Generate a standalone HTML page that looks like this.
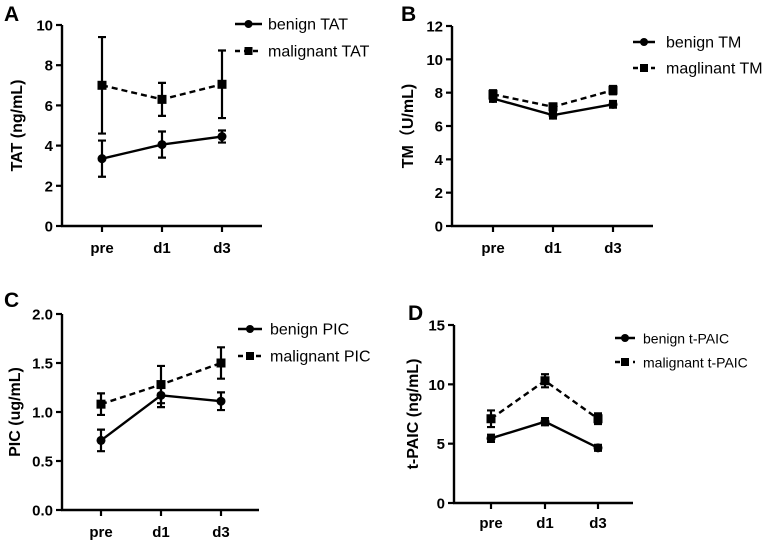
<!DOCTYPE html>
<html><head><meta charset="utf-8"><style>
html,body{margin:0;padding:0;background:#fff;}
svg{display:block;font-family:"Liberation Sans","Noto Sans CJK SC",sans-serif;}
</style></head><body>
<svg id="fig" width="766" height="540" viewBox="0 0 766 540" xmlns="http://www.w3.org/2000/svg"></svg>
<script>
const categories = ["pre","d1","d3"];
const tatBenign = [3.35, 4.05, 4.45];
const tatBenignErr = [0.9, 0.65, 0.3];
const tatMalignant = [7.0, 6.3, 7.05];
const tatMalignantErr = [2.4, 0.82, 1.68];
const tmBenign = [7.65, 6.65, 7.3];
const tmBenignErr = [0.2, 0.2, 0.2];
const tmMalignant = [7.9, 7.15, 8.15];
const tmMalignantErr = [0.25, 0.2, 0.25];
const picBenign = [0.71, 1.17, 1.11];
const picBenignErr = [0.11, 0.12, 0.09];
const picMalignant = [1.08, 1.28, 1.5];
const picMalignantErr = [0.11, 0.19, 0.16];
const tpaicBenign = [5.45, 6.85, 4.65];
const tpaicBenignErr = [0.3, 0.3, 0.25];
const tpaicMalignant = [7.1, 10.3, 7.1];
const tpaicMalignantErr = [0.7, 0.55, 0.45];
const ticksA = [0,2,4,6,8,10];
const ticksB = [0,2,4,6,8,10,12];
const ticksC = ["0.0","0.5","1.0","1.5","2.0"];
const ticksD = [0,5,10,15];

const NS="http://www.w3.org/2000/svg";
const svg=document.getElementById('fig');
function mk(tag,attrs,parent,text){const e=document.createElementNS(NS,tag);for(const k in attrs)e.setAttribute(k,attrs[k]);if(text!==undefined)e.textContent=text;(parent||svg).appendChild(e);return e;}

function panel(p){
  const g=mk('g',{});
  
  
  const ymax=Number(p.ticks[p.ticks.length-1]);
  const ys=v=>p.y0-(v/ymax)*(p.y0-p.y1);
  const xs=i=>p.cx[i];
  const t=mk('text',{x:p.lx,y:p.ly,'font-size':21,'font-weight':'bold'},g,p.letter);
  
  
  const ya=mk('line',{x1:p.ax,y1:p.y1,x2:p.ax,y2:p.y0,stroke:'#000','stroke-width':2.4},g);
  
  
  const xa=mk('line',{x1:p.ax-1,y1:p.y0,x2:p.xend,y2:p.y0,stroke:'#000','stroke-width':2.4},g);
  
  
  p.ticks.forEach(tk=>{
    const y=ys(Number(tk));
    mk('line',{x1:p.ax-6,y1:y,x2:p.ax,y2:y,stroke:'#000','stroke-width':2.2},g);
    const l=mk('text',{x:p.ax-9,y:y+5.5,'font-size':15,'font-weight':'bold','text-anchor':'end'},g,String(tk));
    
    
  });
  categories.forEach((c,i)=>{
    mk('line',{x1:xs(i),y1:p.y0,x2:xs(i),y2:p.y0+6,stroke:'#000','stroke-width':2.2},g);
    const l=mk('text',{x:xs(i),y:p.xly,'font-size':15,'font-weight':'bold','text-anchor':'middle'},g,c);
    
    
  });
  const yt=mk('text',{x:0,y:0,'font-size':16,'font-weight':'bold','text-anchor':'middle',transform:`translate(${p.ytx},${(p.y0+p.y1)/2}) rotate(-90)`},g,p.ytitle);
  
  
  [[p.b,p.be,false],[p.m,p.me,true]].forEach(([vals,errs,dash],si)=>{
    const pts=vals.map((v,i)=>xs(i)+','+ys(v)).join(' ');
    const ln=mk('polyline',{points:pts,fill:'none',stroke:'#000','stroke-width':2.4,'stroke-dasharray':dash?'6,4':'none'},g);
    
    
    vals.forEach((v,i)=>{
      const x=xs(i),hi=ys(v+errs[i]),lo=ys(v-errs[i]);
      const eb=mk('path',{d:`M${x},${hi}V${lo}M${x-4},${hi}H${x+4}M${x-4},${lo}H${x+4}`,stroke:'#000','stroke-width':2.2,fill:'none'},g);
      
      
      let mkr;
      if(dash) mkr=mk('rect',{x:x-4.5,y:ys(v)-4.5,width:9,height:9,fill:'#000'},g);
      else mkr=mk('circle',{cx:x,cy:ys(v),r:4.5,fill:'#000'},g);
      
      
    });
    const ly=si===0?p.leg1:p.leg2;
    const lg=mk('g',{},g);
    
    
    mk('line',{x1:p.legx,y1:ly,x2:p.legx+p.legw,y2:ly,stroke:'#000','stroke-width':2.4,'stroke-dasharray':dash?'5,4':'none'},lg);
    const mx=p.legx+p.legw/2;
    if(dash) mk('rect',{x:mx-4,y:ly-4,width:8,height:8,fill:'#000'},lg);
    else mk('circle',{cx:mx,cy:ly,r:4,fill:'#000'},lg);
    mk('text',{x:p.legtx,y:ly+5.5,'font-size':p.legfs},lg,si===0?p.n1:p.n2);
  });
}
panel({letter:'A',lx:4,ly:21,ax:62,y1:25,y0:226,xend:262,cx:[102,162,222],xly:253,ticks:ticksA,ytx:22,ytitle:'TAT (ng/mL)',
  b:tatBenign,be:tatBenignErr,m:tatMalignant,me:tatMalignantErr,legx:235,legw:27,legtx:268,leg1:24,leg2:51,legfs:16,n1:'benign TAT',n2:'malignant TAT'});
panel({letter:'B',lx:401,ly:21,ax:452,y1:26,y0:226,xend:653,cx:[493,553,613],xly:253,ticks:ticksB,ytx:413,ytitle:'TM\uFF08U/mL)',
  b:tmBenign,be:tmBenignErr,m:tmMalignant,me:tmMalignantErr,legx:633,legw:22,legtx:666,leg1:42,leg2:68,legfs:16,n1:'benign TM',n2:'maglinant TM'});
panel({letter:'C',lx:4,ly:307,ax:62,y1:314,y0:510,xend:259,cx:[101,161,221],xly:537,ticks:ticksC,ytx:20,ytitle:'PIC (ug/mL)',
  b:picBenign,be:picBenignErr,m:picMalignant,me:picMalignantErr,legx:238,legw:24,legtx:270,leg1:329,leg2:356,legfs:16,n1:'benign PIC',n2:'malignant PIC'});
panel({letter:'D',lx:408,ly:320,ax:454,y1:325,y0:503,xend:633,cx:[491,545,598],xly:528,ticks:ticksD,ytx:418,ytitle:'t-PAIC (ng/mL)',
  b:tpaicBenign,be:tpaicBenignErr,m:tpaicMalignant,me:tpaicMalignantErr,legx:615,legw:20,legtx:643,leg1:338,leg2:362,legfs:14,n1:'benign t-PAIC',n2:'malignant t-PAIC'});
</script>
</body></html>
